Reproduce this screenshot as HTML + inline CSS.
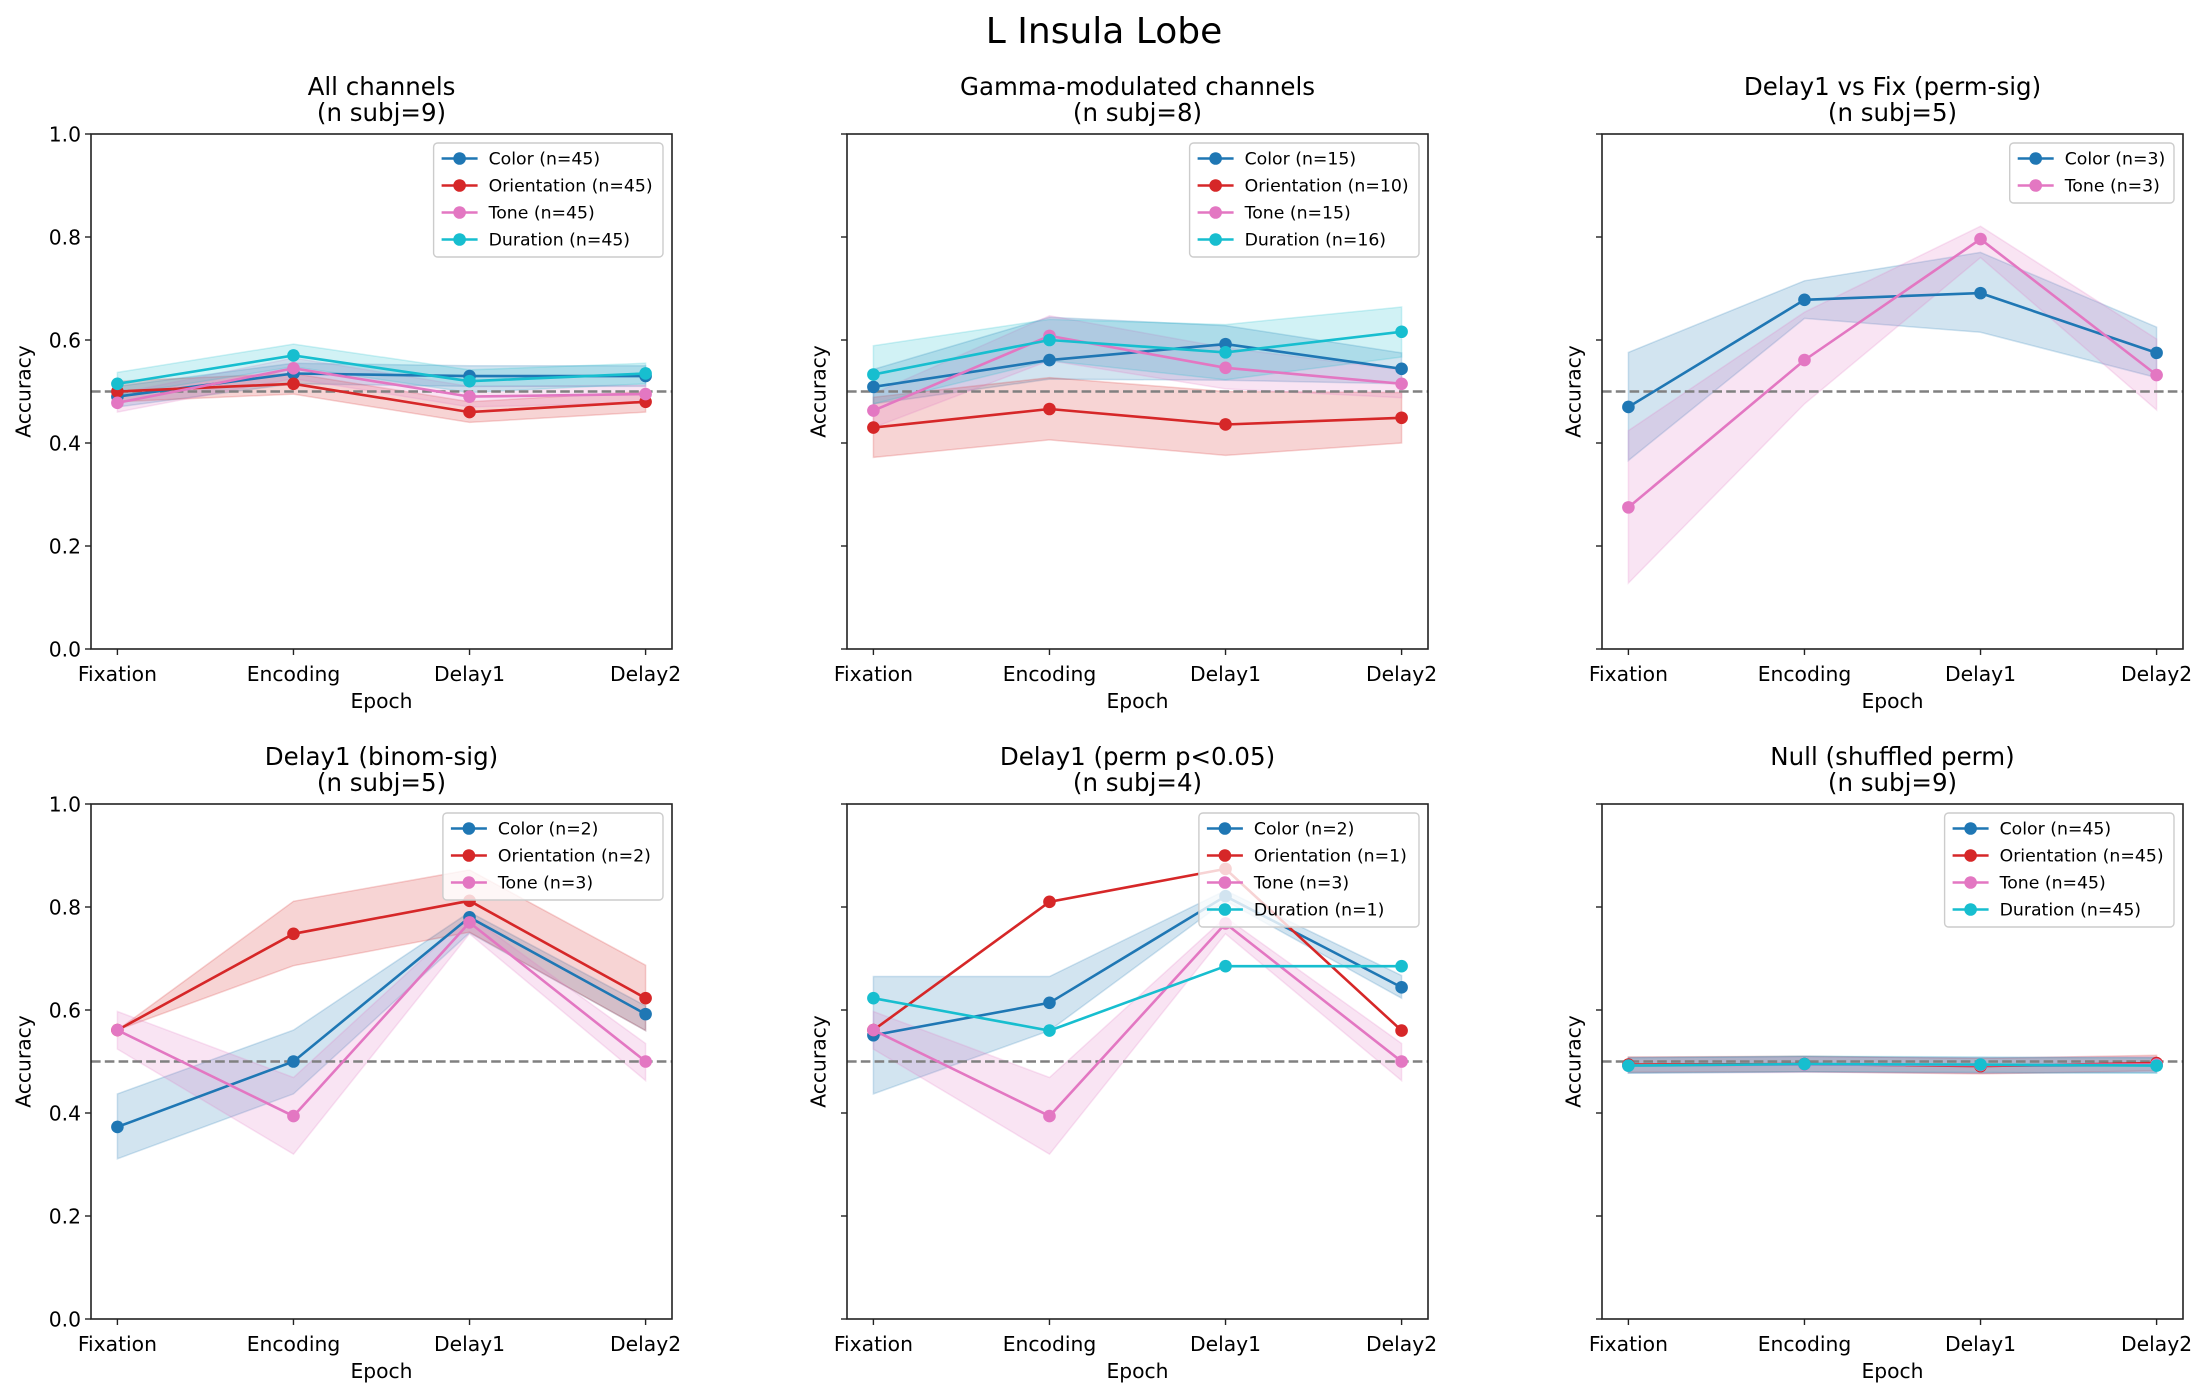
<!DOCTYPE html>
<html><head><meta charset="utf-8"><title>L Insula Lobe</title>
<style>
html,body{margin:0;padding:0;background:#fff;}
svg{display:block;font-family:"DejaVu Sans","Liberation Sans",sans-serif;}
</style></head>
<body>
<svg id="fig" width="2208" height="1397" viewBox="0 0 2208 1397" xmlns="http://www.w3.org/2000/svg">
<rect width="2208" height="1397" fill="#fff"/>
<text x="1104" y="43" font-size="36" text-anchor="middle">L Insula Lobe</text>
</svg>
<script>
const epochs = ["Fixation","Encoding","Delay1","Delay2"];
const yTicks = [0.0,0.2,0.4,0.6,0.8,1.0];
const yTickLabels = ["0.0","0.2","0.4","0.6","0.8","1.0"];
const chanceLevel = 0.5;
const seriesNames = ["Color","Orientation","Tone","Duration"];
const seriesColors = ["#1f77b4","#d62728","#e377c2","#17becf"];

// Panel 1: All channels
const p1Title = ["All channels","(n subj=9)"];
const p1Counts = [45,45,45,45];
const p1Color = [0.490,0.535,0.530,0.530];
const p1ColorLo = [0.470,0.515,0.510,0.510];
const p1ColorHi = [0.510,0.555,0.550,0.550];
const p1Orient = [0.500,0.515,0.460,0.480];
const p1OrientLo = [0.480,0.495,0.440,0.460];
const p1OrientHi = [0.520,0.535,0.480,0.500];
const p1Tone = [0.478,0.545,0.490,0.495];
const p1ToneLo = [0.460,0.525,0.470,0.478];
const p1ToneHi = [0.496,0.565,0.510,0.512];
const p1Dur = [0.515,0.570,0.520,0.535];
const p1DurLo = [0.493,0.548,0.498,0.515];
const p1DurHi = [0.537,0.592,0.542,0.555];

// Panel 2: Gamma-modulated
const p2Title = ["Gamma-modulated channels","(n subj=8)"];
const p2Counts = [15,10,15,16];
const p2Color = [0.509,0.561,0.592,0.544];
const p2ColorLo = [0.476,0.524,0.522,0.515];
const p2ColorHi = [0.543,0.644,0.628,0.575];
const p2Orient = [0.430,0.466,0.436,0.449];
const p2OrientLo = [0.372,0.406,0.376,0.400];
const p2OrientHi = [0.489,0.527,0.500,0.498];
const p2Tone = [0.463,0.608,0.546,0.515];
const p2ToneLo = [0.430,0.560,0.505,0.488];
const p2ToneHi = [0.496,0.647,0.585,0.542];
const p2Dur = [0.533,0.600,0.576,0.616];
const p2DurLo = [0.476,0.560,0.523,0.567];
const p2DurHi = [0.589,0.640,0.630,0.664];

// Panel 3: Delay1 vs Fix
const p3Title = ["Delay1 vs Fix (perm-sig)","(n subj=5)"];
const p3Counts = [3,null,3,null];
const p3Color = [0.470,0.678,0.691,0.575];
const p3ColorLo = [0.366,0.642,0.615,0.527];
const p3ColorHi = [0.576,0.715,0.770,0.625];
const p3Tone = [0.275,0.561,0.796,0.532];
const p3ToneLo = [0.128,0.476,0.760,0.464];
const p3ToneHi = [0.424,0.654,0.821,0.602];

// Panel 4: Delay1 binom-sig
const p4Title = ["Delay1 (binom-sig)","(n subj=5)"];
const p4Counts = [2,2,3,null];
const p4Color = [0.373,0.500,0.780,0.592];
const p4ColorLo = [0.311,0.437,0.750,0.560];
const p4ColorHi = [0.437,0.561,0.790,0.608];
const p4Orient = [0.561,0.748,0.812,0.623];
const p4OrientLo = [0.561,0.686,0.751,0.560];
const p4OrientHi = [0.561,0.811,0.872,0.687];
const p4Tone = [0.561,0.394,0.770,0.500];
const p4ToneLo = [0.524,0.320,0.748,0.463];
const p4ToneHi = [0.597,0.469,0.783,0.535];

// Panel 5: Delay1 perm p<0.05
const p5Title = ["Delay1 (perm p<0.05)","(n subj=4)"];
const p5Counts = [2,1,3,1];
const p5Color = [0.551,0.614,0.821,0.644];
const p5ColorLo = [0.437,0.560,0.812,0.623];
const p5ColorHi = [0.665,0.665,0.832,0.667];
const p5Orient = [0.561,0.810,0.874,0.560];
const p5Tone = [0.561,0.394,0.768,0.500];
const p5ToneLo = [0.524,0.320,0.748,0.463];
const p5ToneHi = [0.597,0.469,0.780,0.535];
const p5Dur = [0.623,0.560,0.685,0.685];

// Panel 6: Null
const p6Title = ["Null (shuffled perm)","(n subj=9)"];
const p6Counts = [45,45,45,45];
const p6Color = [0.493,0.495,0.492,0.493];
const p6ColorLo = [0.478,0.480,0.477,0.478];
const p6ColorHi = [0.508,0.510,0.507,0.508];
const p6Orient = [0.494,0.495,0.491,0.497];
const p6OrientLo = [0.479,0.480,0.476,0.482];
const p6OrientHi = [0.509,0.510,0.506,0.512];
const p6Tone = [0.492,0.494,0.493,0.494];
const p6ToneLo = [0.477,0.479,0.478,0.479];
const p6ToneHi = [0.507,0.509,0.508,0.509];
const p6Dur = [0.492,0.495,0.494,0.492];
const p6DurLo = [0.477,0.480,0.479,0.477];
const p6DurHi = [0.507,0.510,0.509,0.507];

const NS = "http://www.w3.org/2000/svg";
const svg = document.getElementById("fig");
function mk(tag, attrs, parent){
  const e = document.createElementNS(NS, tag);
  for (const k in attrs) e.setAttribute(k, attrs[k]);
  (parent||svg).appendChild(e);
  return e;
}

const panels = [
  {left:91, top:134, title:p1Title, yLabels:true, legendTop:143,
   series:[{i:0,v:p1Color,lo:p1ColorLo,hi:p1ColorHi,n:p1Counts[0]},{i:1,v:p1Orient,lo:p1OrientLo,hi:p1OrientHi,n:p1Counts[1]},{i:2,v:p1Tone,lo:p1ToneLo,hi:p1ToneHi,n:p1Counts[2]},{i:3,v:p1Dur,lo:p1DurLo,hi:p1DurHi,n:p1Counts[3]}]},
  {left:847, top:134, title:p2Title, yLabels:false, legendTop:143,
   series:[{i:0,v:p2Color,lo:p2ColorLo,hi:p2ColorHi,n:p2Counts[0]},{i:1,v:p2Orient,lo:p2OrientLo,hi:p2OrientHi,n:p2Counts[1]},{i:2,v:p2Tone,lo:p2ToneLo,hi:p2ToneHi,n:p2Counts[2]},{i:3,v:p2Dur,lo:p2DurLo,hi:p2DurHi,n:p2Counts[3]}]},
  {left:1602, top:134, title:p3Title, yLabels:false, legendTop:143,
   series:[{i:0,v:p3Color,lo:p3ColorLo,hi:p3ColorHi,n:p3Counts[0]},{i:2,v:p3Tone,lo:p3ToneLo,hi:p3ToneHi,n:p3Counts[2]}]},
  {left:91, top:804, title:p4Title, yLabels:true, legendTop:813,
   series:[{i:0,v:p4Color,lo:p4ColorLo,hi:p4ColorHi,n:p4Counts[0]},{i:1,v:p4Orient,lo:p4OrientLo,hi:p4OrientHi,n:p4Counts[1]},{i:2,v:p4Tone,lo:p4ToneLo,hi:p4ToneHi,n:p4Counts[2]}]},
  {left:847, top:804, title:p5Title, yLabels:false, legendTop:813,
   series:[{i:0,v:p5Color,lo:p5ColorLo,hi:p5ColorHi,n:p5Counts[0]},{i:1,v:p5Orient,n:p5Counts[1]},{i:2,v:p5Tone,lo:p5ToneLo,hi:p5ToneHi,n:p5Counts[2]},{i:3,v:p5Dur,n:p5Counts[3]}]},
  {left:1602, top:804, title:p6Title, yLabels:false, legendTop:813,
   series:[{i:0,v:p6Color,lo:p6ColorLo,hi:p6ColorHi,n:p6Counts[0]},{i:1,v:p6Orient,lo:p6OrientLo,hi:p6OrientHi,n:p6Counts[1]},{i:2,v:p6Tone,lo:p6ToneLo,hi:p6ToneHi,n:p6Counts[2]},{i:3,v:p6Dur,lo:p6DurLo,hi:p6DurHi,n:p6Counts[3]}]}
];

const W = 581, H = 515;
const FS = 20.3;
panels.forEach((p, pi) => {
  const g = mk("g", {});
  
  
  const xS = i => p.left + (i + 0.15) / 3.3 * W;
  const yS = v => p.top + H - v * H;
  const bottom = p.top + H;
  const cx = p.left + W/2;

  p.title.forEach((t, li) => {
    const tt = mk("text", {x:cx, y:p.top - 39 + li*26, "font-size":24.5, "text-anchor":"middle"}, g);
    tt.textContent = t;
    
    
  });

  const bands = mk("g", {}, g);
  
  
  p.series.forEach(s => {
    if (!s.lo) return;
    let d = "";
    s.hi.forEach((v, k) => { d += (k ? "L" : "M") + xS(k).toFixed(1) + "," + yS(v).toFixed(1); });
    for (let k = s.lo.length - 1; k >= 0; k--) d += "L" + xS(k).toFixed(1) + "," + yS(s.lo[k]).toFixed(1);
    d += "Z";
    const b = mk("path", {d:d, fill:seriesColors[s.i], "fill-opacity":0.2, stroke:seriesColors[s.i], "stroke-opacity":0.2, "stroke-width":1.5}, bands);
    
    
  });

  const cl = mk("line", {x1:p.left, x2:p.left+W, y1:yS(chanceLevel), y2:yS(chanceLevel), stroke:"#808080", "stroke-width":2.6, "stroke-dasharray":"9.6,4.2"}, g);
  
  

  p.series.forEach(s => {
    const sg = mk("g", {}, g);
    
    
    const pts = s.v.map((v, k) => xS(k).toFixed(1) + "," + yS(v).toFixed(1)).join(" ");
    const ln = mk("polyline", {points:pts, fill:"none", stroke:seriesColors[s.i], "stroke-width":2.6}, sg);
    
    
    s.v.forEach((v, k) => {
      const c = mk("circle", {cx:xS(k), cy:yS(v), r:6.3, fill:seriesColors[s.i]}, sg);
      
      
    });
  });

  const fr = mk("rect", {x:p.left, y:p.top, width:W, height:H, fill:"none", stroke:"#222", "stroke-width":1.6}, g);
  
  

  yTicks.forEach((t, k) => {
    const tk = mk("line", {x1:p.left-6, x2:p.left, y1:yS(t), y2:yS(t), stroke:"#222", "stroke-width":1.4}, g);
    
    
    if (p.yLabels) {
      const tl = mk("text", {x:p.left-10, y:yS(t)+7.3, "font-size":FS, "text-anchor":"end"}, g);
      tl.textContent = yTickLabels[k];
      
      
    }
  });
  epochs.forEach((e, k) => {
    const tk = mk("line", {x1:xS(k), x2:xS(k), y1:bottom, y2:bottom+6, stroke:"#222", "stroke-width":1.4}, g);
    
    
    const tl = mk("text", {x:xS(k), y:bottom+32, "font-size":FS, "text-anchor":"middle"}, g);
    tl.textContent = e;
    
    
  });
  const xl = mk("text", {x:cx, y:bottom+59, "font-size":FS, "text-anchor":"middle"}, g);
  xl.textContent = "Epoch";
  
  
  const yx = p.yLabels ? p.left - 66 : p.left - 27;
  const yl = mk("text", {x:yx, y:p.top+H/2, "font-size":FS, "text-anchor":"middle", transform:"rotate(-90 " + yx + " " + (p.top+H/2) + ")", "dominant-baseline":"middle"}, g);
  yl.textContent = "Accuracy";
  
  

  const labels = p.series.map(s => seriesNames[s.i] + " (n=" + s.n + ")");
  const maxLen = Math.max.apply(null, labels.map(l => l.length));
  const lw = 62 + maxLen * 9.3;
  const lh = 6 + labels.length * 27;
  const lx = p.left + W - 9 - lw;
  const ly = p.legendTop;
  const lg = mk("g", {}, g);
  
  
  const lr = mk("rect", {x:lx, y:ly, width:lw, height:lh, rx:4, fill:"#fff", "fill-opacity":0.8, stroke:"#ccc", "stroke-width":1.4}, lg);
  
  
  p.series.forEach((s, k) => {
    const ey = ly + 15.5 + k*27;
    const eg = mk("g", {}, lg);
    
    
    mk("line", {x1:lx+8, x2:lx+44, y1:ey, y2:ey, stroke:seriesColors[s.i], "stroke-width":2.6}, eg);
    mk("circle", {cx:lx+26, cy:ey, r:6.3, fill:seriesColors[s.i]}, eg);
    const t = mk("text", {x:lx+55, y:ey+6.2, "font-size":17.3}, eg);
    t.textContent = labels[k];
  });
});
</script>
</body></html>
